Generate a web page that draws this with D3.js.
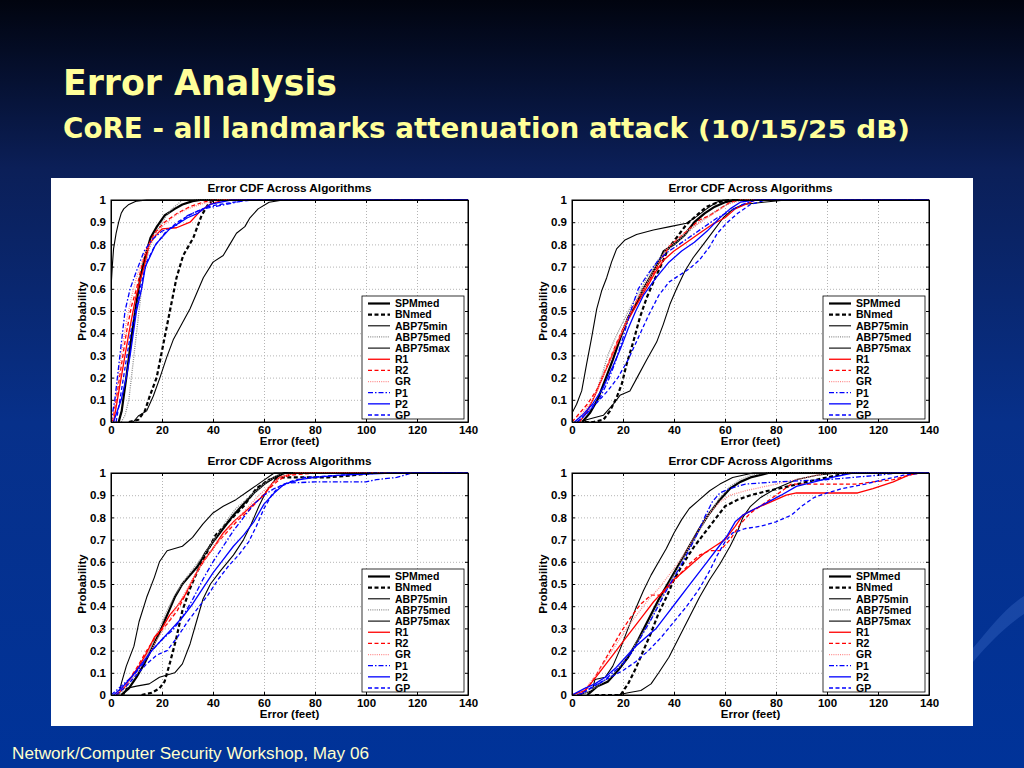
<!DOCTYPE html>
<html>
<head>
<meta charset="utf-8">
<title>Error Analysis</title>
<style>
body {
	margin: 0;
	background: #003399;
	overflow: hidden;
}
svg {
	display: block;
}
</style>
</head>
<body>
<svg width="1024" height="768"></svg>
<script src="https://d3js.org/d3.v7.min.js"></script>
<script>
// Legend order of the algorithms
const seriesNames = ["SPMmed", "BNmed", "ABP75min", "ABP75med", "ABP75max", "R1", "R2", "GR", "P1", "P2", "GP"];
const xTicks = [0, 20, 40, 60, 80, 100, 120, 140];
const yTicks = [0, 0.1, 0.2, 0.3, 0.4, 0.5, 0.6, 0.7, 0.8, 0.9, 1];
const yTickLabels = ["0", "0.1", "0.2", "0.3", "0.4", "0.5", "0.6", "0.7", "0.8", "0.9", "1"];

// [error (feet), probability], one list per series (legend order)
const cdfTopLeft = [
	[[3,0],[4.2,0.05],[6,0.2],[8,0.38],[9.5,0.5],[11.5,0.65],[13.5,0.75],[15.5,0.83],[18,0.88],[21,0.93],[25,0.96],[28,0.98],[32,0.995],[35,1]],
	[[7,0],[10.7,0.01],[13.3,0.05],[15.3,0.12],[17.9,0.2],[20.5,0.35],[23.1,0.5],[25.7,0.65],[28.3,0.75],[32.3,0.83],[35.5,0.93],[38.1,0.98],[40,1]],
	[[0,0.6],[0.5,0.7],[1,0.78],[2,0.85],[3,0.9],[4,0.94],[5,0.96],[7,0.98],[10,0.995],[14,1]],
	[[4,0],[5.5,0.03],[7,0.1],[8.5,0.25],[10,0.4],[11.5,0.55],[13,0.68],[15,0.78],[17,0.84],[20,0.9],[23,0.95],[26,0.98],[28,1]],
	[[8.7,0],[10.7,0.027],[14,0.05],[16.6,0.117],[19.2,0.2],[21.8,0.29],[24.4,0.37],[27.7,0.44],[31,0.51],[33.6,0.58],[36.2,0.65],[40,0.72],[44,0.75],[46.6,0.8],[49.2,0.85],[52.5,0.88],[54.5,0.92],[57.7,0.96],[62,0.99],[67.5,1]],
	[[1,0],[2.5,0.1],[4,0.2],[5.5,0.3],[7,0.4],[9.5,0.55],[11,0.62],[13,0.7],[15,0.8],[17.5,0.84],[20,0.87],[25.7,0.875],[31,0.9],[35,0.95],[38.8,0.98],[44,1]],
	[[0.5,0],[2,0.1],[4,0.25],[6,0.4],[8,0.52],[10,0.6],[12,0.7],[14,0.78],[17,0.85],[21,0.9],[26,0.94],[31,0.97],[36,0.99],[40,1]],
	[[0.5,0],[2,0.12],[4,0.3],[6,0.45],[8,0.56],[10,0.65],[13,0.75],[16,0.82],[20,0.88],[25,0.93],[30,0.96],[35,0.98],[42,1]],
	[[0,0],[1.5,0.1],[3.5,0.3],[5.5,0.5],[7.5,0.6],[10,0.68],[13,0.77],[16,0.82],[20,0.86],[25,0.88],[30,0.93],[36,0.96],[45,0.98],[53,1]],
	[[1,0],[4,0.1],[6,0.2],[7.5,0.3],[10,0.5],[12,0.6],[13.5,0.7],[17.5,0.8],[23,0.87],[30,0.92],[34,0.94],[38.8,0.98],[47,1]],
	[[2,0],[3.5,0.1],[6,0.28],[8,0.42],[10,0.52],[12,0.63],[14,0.72],[17,0.79],[21,0.85],[26,0.9],[32,0.94],[38,0.97],[45,0.985],[55,1]]
];

const cdfTopRight = [
	[[4,0],[7,0.04],[10,0.1],[13,0.19],[16,0.28],[19,0.38],[22,0.47],[25,0.53],[28,0.6],[31,0.66],[34,0.72],[36,0.77],[40,0.8],[44,0.84],[48,0.9],[52,0.94],[56,0.97],[60,0.99],[65,1]],
	[[5,0],[8.4,0],[12.3,0.01],[14.9,0.05],[17.5,0.11],[19.5,0.17],[21.4,0.26],[24,0.36],[26.6,0.47],[29.3,0.56],[31.9,0.63],[35.1,0.71],[37.7,0.78],[41,0.83],[44.9,0.89],[48.8,0.93],[52.8,0.97],[57.3,0.99],[62,1]],
	[[0,0.04],[1.8,0.08],[3.8,0.14],[5.7,0.26],[7.7,0.38],[9.7,0.51],[11.6,0.59],[13.6,0.65],[15.5,0.72],[17.5,0.78],[20.8,0.82],[25.3,0.845],[31.9,0.865],[38.4,0.88],[44.9,0.895],[48.8,0.925],[52.8,0.96],[56.7,0.99],[59.3,1]],
	[[3,0],[6,0.05],[9,0.12],[12,0.22],[14,0.3],[17,0.38],[20,0.45],[23,0.52],[26,0.58],[29,0.64],[32,0.7],[35,0.75],[39,0.79],[43,0.83],[47,0.87],[51,0.91],[55,0.94],[59,0.97],[63,0.99],[68,1]],
	[[4,0],[5.7,0.01],[12.3,0.03],[16.2,0.08],[18.8,0.12],[22.7,0.14],[26,0.21],[29.3,0.28],[33.2,0.36],[35.8,0.44],[38.4,0.53],[41,0.6],[44.3,0.68],[47.5,0.74],[51.5,0.8],[55.4,0.86],[59.3,0.92],[63.2,0.96],[67.1,0.98],[75,0.99],[84,1]],
	[[3,0],[6,0.05],[9,0.12],[12,0.2],[15,0.28],[18,0.36],[21,0.44],[24,0.5],[27,0.56],[30,0.62],[33,0.68],[36,0.73],[40,0.77],[45,0.81],[50,0.85],[55,0.89],[60,0.92],[64,0.96],[68,0.98],[72,1]],
	[[0,0],[3,0.04],[6,0.08],[10,0.15],[14,0.26],[18,0.37],[22,0.47],[26,0.56],[30,0.63],[34,0.71],[38,0.79],[42,0.83],[46,0.87],[50,0.91],[54,0.93],[58,0.96],[62,0.99],[66,1]],
	[[1,0],[4,0.04],[7,0.08],[10,0.14],[13,0.23],[16,0.31],[19,0.39],[22,0.47],[25,0.54],[28,0.6],[31,0.66],[34,0.72],[37,0.78],[41,0.82],[45,0.86],[49,0.89],[53,0.92],[57,0.95],[61,0.98],[66,1]],
	[[2,0],[5,0.03],[8,0.07],[11,0.11],[14,0.18],[17,0.27],[20,0.38],[23,0.5],[26,0.6],[30,0.67],[34,0.73],[38,0.77],[42,0.8],[47,0.84],[52,0.88],[57,0.92],[62,0.95],[67,0.98],[72,1]],
	[[1,0],[4,0.03],[8,0.08],[12,0.15],[16,0.25],[19,0.33],[22,0.42],[25,0.5],[28,0.57],[33,0.65],[38,0.72],[43,0.77],[48,0.81],[53,0.86],[58,0.92],[62,0.96],[66,0.99],[72,1]],
	[[2,0],[6,0.04],[10,0.09],[14,0.14],[18,0.2],[22,0.28],[26,0.38],[30,0.48],[34,0.57],[38,0.63],[42,0.66],[46,0.69],[50,0.73],[54,0.79],[57,0.85],[61,0.9],[65,0.94],[70,0.98],[76,1]]
];

const cdfBottomLeft = [
	[[4,0],[7,0.03],[10,0.08],[13,0.14],[16,0.21],[19,0.28],[22,0.36],[25,0.44],[28,0.5],[31,0.54],[34,0.58],[37,0.64],[40,0.69],[44,0.75],[48,0.81],[52,0.86],[56,0.91],[60,0.95],[64,0.98],[68,1]],
	[[12,0],[16,0.01],[19,0.03],[21,0.06],[23,0.14],[25.5,0.25],[28,0.38],[31,0.48],[34,0.56],[37.5,0.64],[41,0.72],[46,0.78],[52,0.85],[57,0.93],[62,0.97],[68,0.98],[85,0.98],[95,0.99],[103,1]],
	[[3,0],[4,0.05],[6,0.13],[9,0.22],[11,0.33],[14,0.44],[17,0.53],[19,0.6],[22,0.65],[28,0.67],[32,0.71],[36,0.77],[40,0.82],[44,0.85],[49,0.88],[54,0.92],[59,0.96],[64,1]],
	[[3,0],[7,0.05],[10,0.1],[13,0.16],[16,0.23],[19,0.3],[22,0.38],[25,0.45],[29,0.52],[33,0.58],[37,0.64],[41,0.71],[45,0.78],[49,0.84],[53,0.88],[57,0.92],[61,0.96],[65,0.99],[70,1]],
	[[5,0],[6,0.03],[10,0.04],[15,0.05],[19,0.08],[25,0.1],[28,0.14],[31,0.23],[33.5,0.33],[36,0.43],[39,0.5],[43,0.56],[48,0.63],[52,0.7],[55,0.77],[58,0.85],[61,0.92],[65,0.98],[68,1]],
	[[2,0],[5,0.03],[8,0.08],[11,0.13],[14,0.19],[17,0.26],[20,0.3],[23,0.36],[26,0.4],[29,0.45],[32,0.52],[36,0.6],[40,0.66],[44,0.73],[48,0.78],[52,0.82],[56,0.86],[60,0.9],[63,0.95],[66,0.98],[72,1]],
	[[2,0],[6,0.05],[10,0.12],[14,0.2],[18,0.27],[22,0.32],[26,0.38],[30,0.47],[34,0.56],[38,0.63],[42,0.69],[46,0.74],[50,0.79],[54,0.83],[58,0.88],[62,0.93],[66,0.97],[70,0.99],[80,1]],
	[[2,0],[6,0.05],[10,0.1],[14,0.17],[18,0.25],[22,0.32],[26,0.4],[30,0.48],[34,0.56],[38,0.63],[42,0.69],[46,0.75],[50,0.8],[54,0.85],[58,0.9],[62,0.94],[66,0.98],[72,1]],
	[[0,0],[4,0.04],[8,0.08],[12,0.13],[16,0.2],[20,0.25],[24,0.29],[28,0.35],[32,0.43],[36,0.52],[40,0.6],[44,0.67],[48,0.74],[52,0.8],[56,0.86],[60,0.9],[64,0.93],[70,0.955],[80,0.96],[100,0.96],[104,0.97],[112,0.98],[118,1]],
	[[1,0],[4,0.03],[8,0.08],[12,0.14],[16,0.2],[20,0.25],[24,0.3],[28,0.35],[32,0.41],[36,0.48],[40,0.55],[44,0.61],[48,0.67],[52,0.72],[56,0.78],[60,0.86],[64,0.91],[68,0.95],[74,0.97],[80,0.98],[90,0.99],[110,1]],
	[[2,0],[6,0.04],[10,0.09],[14,0.14],[18,0.18],[22,0.2],[26,0.26],[30,0.33],[34,0.39],[38,0.45],[42,0.52],[46,0.58],[50,0.63],[54,0.69],[57,0.76],[60,0.84],[63,0.9],[66,0.94],[70,0.96],[76,0.98],[90,0.99],[100,1]]
];

const cdfBottomRight = [
	[[6,0],[10,0.04],[14,0.06],[18,0.11],[22,0.17],[26,0.25],[30,0.34],[34,0.43],[38,0.51],[42,0.59],[46,0.67],[50,0.75],[54,0.82],[58,0.88],[62,0.93],[66,0.96],[70,0.98],[77,1]],
	[[9,0],[19,0],[22,0.05],[25,0.12],[28,0.2],[31,0.28],[34,0.37],[37,0.44],[40,0.52],[44,0.6],[48,0.67],[52,0.73],[56,0.79],[60,0.85],[65,0.88],[70,0.9],[77,0.92],[85,0.94],[92,0.96],[100,0.98],[108,1]],
	[[3,0],[8,0.02],[9,0.07],[13,0.08],[16,0.13],[19,0.21],[22,0.3],[25,0.39],[28,0.47],[31,0.54],[34,0.6],[37,0.66],[40,0.73],[43,0.79],[46,0.84],[50,0.88],[54,0.92],[58,0.95],[63,0.98],[71,1]],
	[[4,0],[10,0.04],[15,0.08],[20,0.15],[25,0.23],[30,0.32],[34,0.41],[38,0.5],[42,0.58],[46,0.66],[50,0.74],[54,0.82],[58,0.89],[62,0.94],[66,0.97],[70,0.99],[76,1]],
	[[18,0],[22,0.01],[27,0.02],[31,0.05],[34,0.1],[38,0.17],[42,0.26],[46,0.35],[50,0.44],[54,0.52],[58,0.59],[62,0.67],[65,0.74],[67,0.8],[70,0.85],[74,0.89],[80,0.93],[88,0.97],[96,0.99],[104,1]],
	[[0,0],[5,0.02],[8,0.06],[12,0.12],[16,0.18],[20,0.24],[24,0.3],[28,0.36],[32,0.42],[36,0.47],[40,0.52],[44,0.56],[48,0.6],[52,0.64],[56,0.67],[60,0.7],[64,0.76],[67,0.81],[72,0.84],[78,0.87],[84,0.9],[88,0.91],[112,0.91],[118,0.93],[126,0.96],[132,0.99],[136,1]],
	[[3,0],[6,0.03],[9,0.08],[12,0.14],[15,0.2],[19,0.28],[23,0.35],[27,0.41],[31,0.45],[35,0.45],[38,0.49],[42,0.54],[46,0.59],[50,0.63],[54,0.65],[58,0.65],[62,0.7],[66,0.77],[70,0.82],[75,0.86],[80,0.9],[86,0.95],[112,0.95],[118,0.96],[126,0.97],[132,0.99],[136,1]],
	[[2,0],[6,0.04],[10,0.1],[14,0.17],[18,0.24],[22,0.31],[26,0.37],[30,0.43],[34,0.48],[38,0.54],[42,0.6],[46,0.67],[50,0.75],[54,0.82],[58,0.87],[62,0.9],[68,0.92],[76,0.94],[84,0.96],[92,0.98],[100,1]],
	[[3,0],[7,0.03],[12,0.06],[16,0.1],[20,0.14],[24,0.2],[28,0.28],[32,0.36],[36,0.45],[40,0.53],[44,0.61],[48,0.7],[52,0.8],[55,0.87],[58,0.91],[62,0.93],[68,0.95],[80,0.96],[100,0.97],[110,0.98],[120,0.99],[128,1]],
	[[0,0],[5,0.03],[9,0.05],[13,0.08],[17,0.12],[21,0.17],[25,0.22],[29,0.26],[33,0.3],[37,0.36],[41,0.42],[45,0.48],[49,0.54],[53,0.6],[57,0.66],[61,0.72],[64,0.78],[67,0.81],[72,0.84],[77,0.87],[82,0.9],[88,0.94],[95,0.96],[102,0.98],[110,1]],
	[[2,0],[6,0.02],[10,0.05],[15,0.08],[20,0.11],[25,0.15],[30,0.2],[35,0.26],[40,0.33],[45,0.4],[50,0.48],[54,0.56],[57,0.63],[60,0.69],[63,0.73],[68,0.75],[74,0.76],[80,0.78],[86,0.81],[90,0.85],[95,0.89],[100,0.91],[106,0.93],[115,0.95],[122,0.97],[130,0.99],[138,1]]
];

// MATLAB-like line styles, in legend order
const lineStyle = [
	{color: "#000000", width: 2.2, dash: null},
	{color: "#000000", width: 2.2, dash: "4,2.5"},
	{color: "#000000", width: 1.1, dash: null},
	{color: "#8c8c8c", width: 1.3, dash: "1,1.2"},
	{color: "#000000", width: 1.1, dash: null},
	{color: "#ff0000", width: 1.3, dash: null},
	{color: "#ff0000", width: 1.3, dash: "4,2.5"},
	{color: "#ff8a8a", width: 1.3, dash: "1,1.2"},
	{color: "#0000ff", width: 1.3, dash: "5,2,1.5,2"},
	{color: "#0000ff", width: 1.3, dash: null},
	{color: "#0000ff", width: 1.3, dash: "4,2.5"}
];

// plot boxes on the slide
const panels = [
	{data: cdfTopLeft, left: 111, right: 468, top: 200, bottom: 422},
	{data: cdfTopRight, left: 572, right: 929, top: 200, bottom: 422},
	{data: cdfBottomLeft, left: 111, right: 468, top: 473, bottom: 695},
	{data: cdfBottomRight, left: 572, right: 929, top: 473, bottom: 695}
];

const svg = d3.select("svg");
const defs = svg.append("defs");

// slide background
const grad = defs.append("linearGradient")
	.attr("id", "bg")
	.attr("x1", 0).attr("y1", 0).attr("x2", 0).attr("y2", 1);
grad.append("stop").attr("offset", "0%").attr("stop-color", "#01040f");
grad.append("stop").attr("offset", "22%").attr("stop-color", "#0b1f58");
grad.append("stop").attr("offset", "55%").attr("stop-color", "#07308a");
grad.append("stop").attr("offset", "100%").attr("stop-color", "#003399");

svg.append("rect")
	.attr("width", 1024).attr("height", 768)
	.attr("fill", "url(#bg)");

// faint swoosh at the right edge
svg.append("path")
	.attr("d", "M973,648 C990,628 1005,608 1024,596 L1024,614 C1006,626 990,642 973,662 Z")
	.attr("fill", "#3a66c4")
	.attr("opacity", 0.4);

// slide titles
const titleFont = "Tahoma, 'DejaVu Sans', sans-serif";
svg.append("text")
	.attr("x", 63).attr("y", 95)
	.attr("font-family", titleFont)
	.attr("font-weight", "bold")
	.attr("font-size", 35)
	.attr("fill", "#ffff99")
	.attr("textLength", 274)
	.attr("lengthAdjust", "spacingAndGlyphs")
	.text("Error Analysis");

svg.append("text")
	.attr("x", 63).attr("y", 137.5)
	.attr("font-family", titleFont)
	.attr("font-weight", "bold")
	.attr("font-size", 29)
	.attr("fill", "#ffff99")
	.attr("textLength", 625)
	.attr("lengthAdjust", "spacingAndGlyphs")
	.text("CoRE - all landmarks attenuation attack");

svg.append("text")
	.attr("x", 698).attr("y", 137.5)
	.attr("font-family", titleFont)
	.attr("font-weight", "bold")
	.attr("font-size", 25)
	.attr("fill", "#ffff99")
	.attr("textLength", 212)
	.attr("lengthAdjust", "spacingAndGlyphs")
	.text("(10/15/25 dB)");

// footer
svg.append("text")
	.attr("x", 12).attr("y", 759)
	.attr("font-family", "'Liberation Sans', Arial, sans-serif")
	.attr("font-size", 16)
	.attr("fill", "#ffffcc")
	.attr("textLength", 357)
	.attr("lengthAdjust", "spacingAndGlyphs")
	.text("Network/Computer Security Workshop, May 06");

// white figure area
svg.append("rect")
	.attr("x", 51).attr("y", 178)
	.attr("width", 922).attr("height", 548)
	.attr("fill", "#ffffff");

const font = "'Liberation Sans', Arial, sans-serif";

panels.forEach(function(p, i) {
	const w = p.right - p.left;
	const h = p.bottom - p.top;
	const x = d3.scaleLinear().domain([0, 140]).range([0, w]);
	const y = d3.scaleLinear().domain([0, 1]).range([h, 0]);

	const g = svg.append("g").attr("transform", "translate(" + p.left + "," + p.top + ")");

	defs.append("clipPath").attr("id", "clip" + i)
		.append("rect").attr("x", 0).attr("y", -1).attr("width", w).attr("height", h + 1);

	// dotted grid
	g.append("g")
		.attr("transform", "translate(0," + h + ")")
		.call(d3.axisBottom(x).tickValues(xTicks).tickSize(-h).tickFormat(""))
		.call(s => s.select(".domain").remove())
		.selectAll("line").attr("stroke", "#b4b4b4").attr("stroke-dasharray", "1,2");
	g.append("g")
		.call(d3.axisLeft(y).tickValues(yTicks).tickSize(-w).tickFormat(""))
		.call(s => s.select(".domain").remove())
		.selectAll("line").attr("stroke", "#b4b4b4").attr("stroke-dasharray", "1,2");

	// curves
	const line = d3.line().x(d => x(d[0])).y(d => y(d[1]));
	const curves = g.append("g").attr("clip-path", "url(#clip" + i + ")");
	p.data.forEach(function(pts, k) {
		const full = pts[pts.length - 1][0] < 140 ? pts.concat([[140, 1]]) : pts;
		const st = lineStyle[k];
		curves.append("path")
			.attr("d", line(full))
			.attr("fill", "none")
			.attr("stroke", st.color)
			.attr("stroke-width", st.width)
			.attr("stroke-dasharray", st.dash)
			.attr("stroke-linejoin", "round");
	});

	// axes with inward ticks
	const xAxis = g.append("g")
		.attr("transform", "translate(0," + h + ")")
		.call(d3.axisBottom(x).tickValues(xTicks).tickSizeInner(-3).tickSizeOuter(0).tickPadding(4));
	const yAxis = g.append("g")
		.call(d3.axisLeft(y).tickValues(yTicks).tickFormat((d, j) => yTickLabels[j]).tickSizeInner(-3).tickSizeOuter(0).tickPadding(5));
	g.append("g")
		.attr("transform", "translate(" + w + ",0)")
		.call(d3.axisRight(y).tickValues(yTicks).tickSizeInner(-3).tickSizeOuter(0).tickFormat(""));
	g.append("g")
		.call(d3.axisTop(x).tickValues(xTicks).tickSizeInner(-3).tickSizeOuter(0).tickFormat(""));
	[xAxis, yAxis].forEach(a => a.selectAll("text")
		.attr("font-family", font).attr("font-weight", "bold").attr("font-size", 11.5).attr("fill", "#000"));
	g.selectAll(".domain").attr("stroke", "#000");
	g.selectAll(".tick line").filter(function() { return !d3.select(this).attr("stroke-dasharray"); }).attr("stroke", "#000");

	g.append("rect")
		.attr("width", w).attr("height", h)
		.attr("fill", "none").attr("stroke", "#000").attr("stroke-width", 1);

	// titles
	g.append("text")
		.attr("x", w / 2).attr("y", -8)
		.attr("text-anchor", "middle")
		.attr("font-family", font).attr("font-weight", "bold").attr("font-size", 10.5)
		.attr("textLength", 164).attr("lengthAdjust", "spacingAndGlyphs")
		.text("Error CDF Across Algorithms");
	g.append("text")
		.attr("x", w / 2).attr("y", h + 23)
		.attr("text-anchor", "middle")
		.attr("font-family", font).attr("font-weight", "bold").attr("font-size", 11.5)
		.text("Error (feet)");
	g.append("text")
		.attr("transform", "translate(-25," + (h / 2) + ") rotate(-90)")
		.attr("text-anchor", "middle")
		.attr("font-family", font).attr("font-weight", "bold").attr("font-size", 11.5)
		.text("Probability");

	// legend
	const lg = g.append("g").attr("transform", "translate(" + (w - 106) + "," + (h - 126) + ")");
	lg.append("rect")
		.attr("width", 102).attr("height", 123)
		.attr("fill", "#fff").attr("stroke", "#000").attr("stroke-width", 0.8);
	seriesNames.forEach(function(name, k) {
		const yy = 7.5 + k * 11.15;
		const st = lineStyle[k];
		lg.append("line")
			.attr("x1", 6).attr("x2", 28).attr("y1", yy).attr("y2", yy)
			.attr("stroke", st.color)
			.attr("stroke-width", st.width)
			.attr("stroke-dasharray", st.dash);
		lg.append("text")
			.attr("x", 33).attr("y", yy + 3.8)
			.attr("font-family", font).attr("font-weight", "bold").attr("font-size", 10.5)
			.text(name);
	});
});
</script>
</body>
</html>
